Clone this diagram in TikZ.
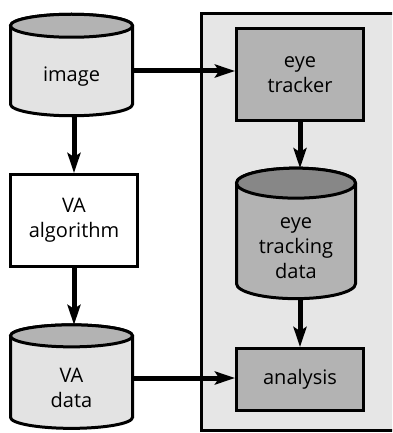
\documentclass[tikz,border=0pt]{standalone}
\usepackage{fontspec}
\setmainfont{Open Sans}
\usetikzlibrary{arrows.meta}

\definecolor{panelgray}{HTML}{E6E6E6}
\definecolor{lightbody}{HTML}{E3E3E3}
\definecolor{lighttop}{HTML}{B3B3B3}
\definecolor{darkbody}{HTML}{B3B3B3}
\definecolor{darktop}{HTML}{878787}

\tikzset{
  lbl/.style={font=\fontsize{20}{25}\selectfont, align=center},
  box/.style={draw, line width=3pt, lbl, inner sep=0pt},
  dbframe/.style={rectangle, inner sep=0pt, outer sep=0pt},
  dbline/.style={draw, line width=3pt},
  flow/.style={line width=5pt, -{Stealth[length=20pt,width=13pt,inset=4pt]}}
}

% name, position, width, height, end radius, body colour, top colour, text
\newcommand{\dbcylinder}[8]{%
  \node[dbframe, minimum width=#3, minimum height=#4] (#1) at (#2) {};
  \draw[dbline, fill=#6] ([yshift=-#5]#1.north west) -- ([yshift=#5]#1.south west)
    arc[start angle=180, end angle=360, x radius=0.5*#3, y radius=#5]
    -- ([yshift=-#5]#1.north east)
    arc[start angle=0, end angle=180, x radius=0.5*#3, y radius=#5] -- cycle;
  \draw[dbline, fill=#7] ([yshift=-#5]#1.north) ellipse[x radius=0.5*#3, y radius=#5];
  \node[lbl] (#1-text) at ([yshift=-#5]#1.center) {#8};
}

\begin{document}
\begin{tikzpicture}[x=1pt,y=-1pt]
  \useasboundingbox (0,0) rectangle (392,433);
  \clip (0,0) rectangle (392,433);
  % eye tracking lab
  \draw[line width=3pt, fill=panelgray] (420,13.5) -- (201.5,13.5) -- (201.5,430.5) -- (420,430.5);

  \dbcylinder{image}{71.5,65}{122pt}{101.5pt}{11.5pt}{lightbody}{lighttop}{image}
  \node[box, fill=white, minimum width=127pt, minimum height=92pt] (va) at (74,220.5) {VA\\algorithm};
  \dbcylinder{vadata}{71.5,376.6}{122pt}{103.5pt}{11pt}{lightbody}{lighttop}{VA\\data}

  \node[box, fill=darkbody, minimum width=127pt, minimum height=92pt] (tracker) at (300,74.5) {eye\\tracker};
  \dbcylinder{etdata}{296,233.4}{119pt}{130.5pt}{15pt}{darkbody}{darktop}{eye\\tracking\\data}
  \node[box, fill=darkbody, minimum width=127pt, minimum height=62pt] (analysis) at (300,379.5) {analysis};

  \draw[flow] (image.east |- 0,71) -- (tracker.west |- 0,71);
  \draw[flow] (va.north |- image.south) -- (va.north);
  \draw[flow] (va.south) -- (va.south |- vadata.north);
  \draw[flow] (vadata.east |- 0,378) -- (analysis.west |- 0,378);
  \draw[flow] (tracker.south) -- (tracker.south |- etdata.north);
  \draw[flow] (analysis.north |- etdata.south) -- (analysis.north);
\end{tikzpicture}
\end{document}
